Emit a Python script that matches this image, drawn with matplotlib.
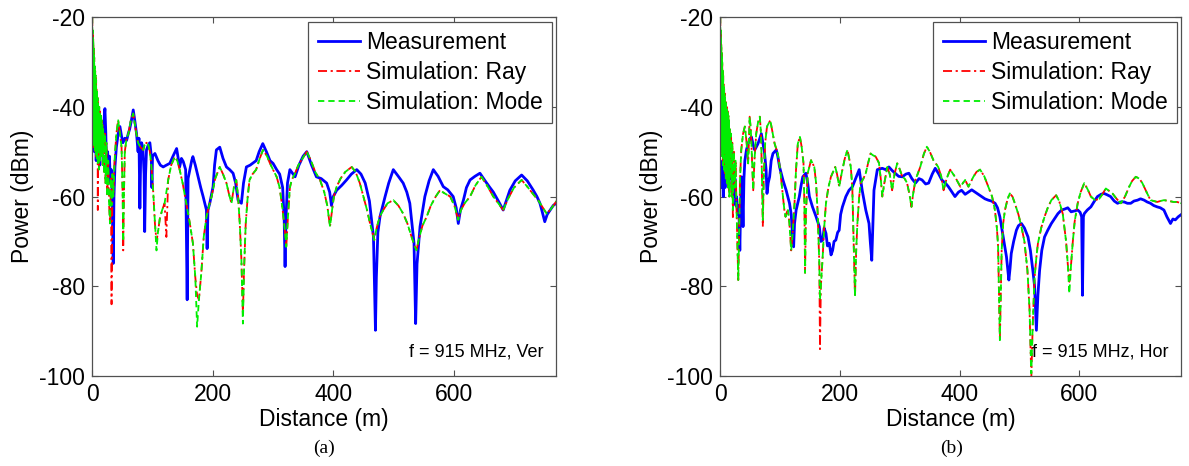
"""Measured vs. simulated received power along a tunnel at 915 MHz.

Two panels: (a) vertical and (b) horizontal polarisation. Each panel overlays
the measurement with the ray-tracing and modal simulations, MATLAB style.
"""

from __future__ import annotations

import matplotlib

matplotlib.use("Agg")
import matplotlib.pyplot as plt

plt.rcParams["font.family"] = ["Liberation Sans", "DejaVu Sans"]
plt.rcParams["axes.unicode_minus"] = False

# --- Data --------------------------------------------------------------------
# Panel (a): f = 915 MHz, vertical polarisation
meas_a_dist = [
    2.0, 3.5, 5.0, 6.5, 8.0, 9.5, 11.0, 12.5, 14.0, 15.5, 17.0, 18.5, 20.0,
    21.0, 22.5, 23.8, 25.5, 27.0, 28.5, 30.0, 31.5, 33.0, 34.8, 36.0, 37.6,
    40.0, 43.0, 45.9, 48.5, 51.0, 54.0, 57.0, 59.7, 62.0, 65.0, 68.0, 70.5,
    73.5, 76.0, 77.5, 79.0, 80.5, 81.8, 84.0, 86.0, 87.0, 88.5, 90.0, 93.0,
    95.6, 98.0, 99.0, 100.0, 104.0, 109.0, 113.0, 117.7, 123.0, 128.7, 134.0,
    140.0, 145.0, 148.0, 151.0, 155.0, 157.5, 159.0, 162.0, 165.0, 167.0,
    171.0, 175.7, 180.0, 184.0, 189.5, 190.6, 192.0, 195.0, 200.5, 203.0,
    206.0, 211.6, 217.0, 222.7, 228.0, 233.7, 238.0, 242.0, 247.5, 251.0,
    255.8, 262.0, 267.0, 272.0, 277.0, 283.0, 289.0, 295.0, 300.0, 306.0,
    311.0, 316.0, 318.5, 320.0, 321.5, 324.0, 328.0, 336.6, 343.0, 350.0,
    356.0, 364.0, 372.0, 380.0, 389.0, 394.0, 397.0, 400.0, 405.6, 414.0,
    422.0, 430.0, 439.0, 446.0, 453.0, 460.0, 466.7, 468.5, 470.0, 471.5,
    474.0, 477.5, 486.0, 492.0, 499.6, 508.0, 516.0, 522.0, 527.0, 534.0,
    536.7, 539.0, 544.0, 552.0, 559.0, 566.0, 574.0, 582.6, 590.0, 599.0,
    604.0, 607.5, 611.0, 616.0, 621.0, 627.0, 635.0, 643.4, 652.0, 660.0,
    665.6, 674.0, 682.0, 687.0, 693.0, 702.0, 712.6, 722.0, 732.0, 738.0,
    743.0, 747.0, 751.0, 755.0, 760.0, 765.0, 770.0,
]
meas_a_power = [
    -46, -50, -45, -52, -47, -51, -46, -53, -48, -50, -45, -47, -42,
    -40.4, -46, -54.8, -50, -56, -51, -57, -54, -60, -74.9, -60, -53.4,
    -49, -46, -44.4, -46.5, -48, -47, -47.5, -46, -45, -43, -40.7, -43,
    -46, -50, -47, -62.6, -50, -48, -49, -55, -67.8, -55, -49.6, -48.5,
    -48, -51, -58, -51, -50.4, -52, -53, -53.4, -53, -52.6, -51,
    -49.3, -53.4, -51.5, -52.2, -54, -83, -56, -54, -52, -51.1,
    -53, -55.6, -58, -60, -63, -71.6, -63, -61.5, -57.8, -53,
    -49.6, -49, -51.5, -53.4, -54, -54.8, -57, -60.8, -61.5, -57,
    -53.4, -53, -52.5, -52, -50, -48.2, -50, -52, -52.6, -54,
    -55, -58, -65, -75.6, -65, -57, -54, -55.6, -53, -51,
    -50, -53, -55.6, -56, -57, -59, -62, -60, -58.6, -57.5,
    -56.3, -55, -54, -55, -57, -61, -69, -80, -89.8, -78,
    -68, -64.5, -60, -57, -54, -55.5, -57, -59, -61.5, -70.4,
    -88.3, -75, -66.7, -60, -56.5, -54, -55.5, -57.8, -58.5, -60,
    -62.5, -66, -63, -60.8, -58, -56.3, -55.5, -54.8, -56.5, -58,
    -59, -61, -63, -61, -58.6, -56.5, -55.2, -56.5, -58.6, -60,
    -61.5, -63.5, -65.6, -64, -63, -62, -61.5,
]

sim_a_dist = [
    0.0, 0.4, 0.8, 1.2, 1.6, 2.0, 2.4, 2.8, 3.2, 3.6, 4.0, 4.4, 4.8, 5.2,
    5.6, 6.0, 6.4, 6.8, 7.2, 7.6, 8.0, 8.4, 8.8, 9.2, 9.6, 10.0, 10.5, 11.0,
    11.5, 12.0, 12.5, 13.0, 13.5, 14.0, 14.5, 15.0, 15.6, 16.2, 16.8, 17.4,
    18.0, 18.6, 19.2, 20.0, 21.0, 22.0, 23.5, 25.0, 26.5, 28.0, 29.5, 31.0,
    32.0, 33.5, 35.0, 37.0, 40.0, 43.0, 46.0, 48.6, 50.5, 51.4, 52.5, 54.0,
    57.0, 60.0, 64.0, 68.0, 72.0, 76.0, 80.0, 84.5, 87.0, 90.0, 93.0, 95.6,
    98.0, 101.0, 104.0, 106.6, 109.0, 112.0, 116.0, 120.0, 123.0, 126.0,
    131.0, 137.0, 141.0, 145.0, 150.0, 156.0, 162.0, 167.0, 171.0, 174.0,
    177.0, 181.0, 185.0, 189.5, 194.0, 198.0, 204.0, 211.6, 217.0, 222.7,
    227.0, 231.0, 235.0, 239.0, 242.0, 244.8, 247.5, 250.0, 252.0, 254.7,
    258.0, 261.0, 266.0, 272.0, 278.0, 283.4, 290.0, 295.0, 300.0, 306.0,
    311.0, 316.0, 320.0, 322.0, 325.0, 328.0, 331.0, 336.0, 342.0, 349.0,
    356.0, 363.0, 370.0, 378.0, 385.0, 390.0, 394.6, 398.0, 401.0, 405.6,
    412.0, 420.0, 430.6, 437.0, 444.0, 450.0, 456.0, 461.0, 466.0, 468.0,
    472.0, 477.0, 483.0, 490.0, 499.6, 508.0, 516.0, 523.0, 530.0, 535.0,
    538.0, 542.0, 548.0, 555.0, 562.0, 570.0, 577.0, 585.0, 594.0, 601.0,
    605.0, 607.5, 612.0, 618.0, 627.0, 636.0, 646.0, 655.0, 665.6, 674.0,
    682.0, 690.0, 700.0, 712.6, 722.0, 732.0, 740.0, 748.0, 754.0, 760.0,
    768.0, 770.0,
]
mode_a_power = [
    -20, -38, -23, -44, -25, -47, -27, -49, -29, -46, -31, -50, -32, -48,
    -33, -51, -34, -47, -36, -52, -37, -49, -38, -53, -39, -50, -40, -54,
    -40, -49, -41, -52, -42, -48, -42, -51, -43, -47, -44, -53,
    -45, -50, -46, -55, -46, -57, -48, -60, -52, -62, -66, -56,
    -62, -55, -60, -52, -46, -43, -46, -49, -60, -70, -60, -50,
    -47, -46, -43, -41.5, -45, -48, -49, -49.6, -48.5, -48, -48.5, -50,
    -53, -58.6, -66, -72, -68, -65, -63, -61.5, -59, -56.3,
    -53, -51.1, -52, -54, -57, -61.5, -66, -70.4, -78, -89,
    -83, -77, -69, -64.5, -62, -60, -56, -53.4, -55, -57,
    -59.5, -61.5, -58, -56.3, -60, -66, -74, -88.3, -76, -66,
    -60, -56.3, -55, -54, -51.5, -49.6, -51, -52.6, -54, -55.6,
    -58, -63, -68, -71.2, -64, -58, -56.3, -55, -53, -51.5,
    -50, -52, -54.5, -56.3, -59, -62, -66.7, -63, -60, -57.8,
    -56, -54.5, -53.4, -54.5, -57, -60, -63, -66, -68.5, -69.7,
    -67, -64.5, -63, -61.5, -60.8, -62, -63.8, -66, -69, -71,
    -72, -69.5, -66.5, -64.5, -62, -60, -58.6, -59.3, -60, -62,
    -64, -65.2, -63, -61.5, -60, -57.5, -55.6, -57.5, -60, -61.5,
    -63, -60.5, -58, -56.3, -57.8, -59.5, -60.8, -62.5, -63.8, -63,
    -61.5, -61,
]
# Ray tracing follows the modal curve except in these deeper nulls
ray_a_nulls = {9.2: -63, 32.0: -84, 51.4: -72, 106.6: -70, 123.0: -69,
               174.0: -82, 250.0: -86}

# Panel (b): f = 915 MHz, horizontal polarisation
meas_b_dist = [
    3.0, 4.0, 5.0, 6.5, 8.0, 9.5, 10.5, 12.0, 13.5, 15.0, 16.5, 18.0, 19.5,
    21.6, 23.0, 24.5, 26.0, 27.0, 29.0, 31.0, 32.6, 34.0, 35.4, 36.5, 38.0,
    39.5, 41.0, 43.7, 47.0, 50.0, 52.0, 55.0, 57.5, 60.0, 63.0, 66.0, 68.6,
    71.0, 74.0, 76.5, 78.0, 80.0, 82.4, 85.0, 88.0, 93.5, 96.0, 99.0, 104.6,
    110.0, 115.6, 118.5, 121.0, 122.5, 124.0, 126.7, 132.0, 135.0, 137.8,
    143.0, 146.0, 148.8, 154.0, 160.0, 165.4, 168.0, 171.0, 173.5, 176.5,
    179.0, 182.0, 185.0, 187.6, 190.0, 193.0, 196.0, 198.6, 201.0, 204.0,
    209.7, 215.0, 220.7, 226.0, 232.0, 237.0, 243.0, 248.4, 250.5, 253.0,
    255.5, 256.7, 262.3, 270.6, 276.0, 281.6, 287.0, 292.0, 298.0, 304.0,
    310.0, 315.0, 320.0, 326.0, 332.0, 337.0, 343.0, 348.0, 354.0, 359.0,
    365.0, 370.0, 376.0, 381.0, 387.0, 392.0, 398.0, 403.0, 409.0, 414.5,
    420.0, 425.5, 431.0, 436.6, 442.0, 447.6, 453.0, 459.0, 463.0, 467.0,
    472.6, 478.0, 482.0, 484.0, 486.0, 490.0, 494.6, 498.0, 503.0, 508.0,
    514.0, 518.0, 522.0, 525.0, 528.0, 530.5, 533.4, 537.0, 541.6, 547.0,
    553.0, 558.0, 564.0, 570.0, 575.0, 580.4, 586.0, 592.0, 597.0, 601.0,
    603.6, 605.0, 606.5, 608.0, 613.0, 619.0, 625.0, 630.0, 636.0, 641.0,
    646.0, 652.0, 658.0, 663.5, 669.0, 674.6, 680.0, 685.6, 691.0, 697.0,
    702.0, 708.0, 713.0, 718.6, 724.0, 729.8, 735.0, 741.0, 746.0, 752.0,
    756.0, 760.0, 765.0, 770.0,
]
meas_b_power = [
    -58, -52, -60, -54, -58, -50, -52, -48, -55, -51, -56, -50, -58,
    -57, -60, -56, -62, -60, -64, -62, -72, -62, -55.6, -58, -66.7,
    -56, -52, -49.6, -48, -47, -46.7, -48.5, -49.6, -49, -48.2, -47, -46,
    -48, -50.4, -54, -59.3, -57, -55.6, -52, -50.4, -49.6, -51, -53.4, -56.3,
    -58.6, -61.5, -64, -69.7, -71.2, -66, -63, -60, -57.5, -55.6,
    -54.8, -57, -60, -62.3, -64.5, -66.7, -70, -69.7, -67, -68.2,
    -71, -70.4, -73, -72, -70, -69.7, -68, -67.5, -64, -62.3,
    -60, -58.6, -57.8, -56, -54, -58.6, -63, -66, -70, -74.2,
    -64, -58.6, -54, -53.7, -54, -53.4, -54.2, -54.8, -55.5, -55.6,
    -55, -54.8, -56, -57, -56, -56.3, -57.2, -57, -55, -53.7,
    -55, -56.3, -57, -57.8, -59, -60, -59, -58.6, -59.5, -59,
    -58.5, -59, -59.5, -60, -60.5, -60.8, -61, -61.5, -62.5, -64.5,
    -69, -73.4, -78.6, -76, -72.7, -70, -67.5, -66.5, -66, -67,
    -69, -72, -76.4, -80, -89.8, -82, -76.4, -72, -69, -67.5,
    -66, -65, -63.8, -63, -62.8, -62.5, -63.4, -63.2, -63, -63.5,
    -64.5, -82, -64.5, -63.8, -63, -62.3, -61, -60, -59.5, -59.3,
    -59.6, -60, -61, -61.5, -61.2, -61.2, -61.5, -61.5, -61, -60.8,
    -60.5, -60.8, -61.2, -61.5, -62, -62.3, -62.5, -63, -64.5, -66,
    -65, -65.2, -64.5, -64,
]

sim_b_dist = [
    0.0, 0.4, 0.8, 1.2, 1.6, 2.0, 2.4, 2.8, 3.2, 3.6, 4.0, 4.4, 4.8, 5.2,
    5.6, 6.0, 6.4, 6.8, 7.2, 7.6, 8.0, 8.4, 8.8, 9.2, 9.6, 10.0, 10.5, 11.0,
    11.5, 12.0, 12.5, 13.0, 13.5, 14.0, 14.5, 15.0, 16.0, 17.0, 18.0, 19.0,
    20.0, 21.0, 22.5, 24.0, 25.5, 27.0, 28.5, 30.0, 31.5, 33.0, 35.0, 38.0,
    41.0, 44.0, 46.5, 48.0, 49.0, 51.0, 53.0, 55.0, 57.0, 60.0, 63.0, 66.0,
    68.0, 69.5, 71.0, 72.5, 75.0, 78.0, 83.5, 87.0, 90.7, 96.0, 100.0, 104.6,
    107.0, 109.0, 111.0, 113.0, 115.5, 118.4, 121.0, 124.0, 126.5, 129.5,
    133.0, 136.0, 139.0, 140.5, 141.6, 143.0, 146.0, 151.6, 157.0, 160.0,
    162.7, 165.4, 166.5, 168.0, 171.0, 173.5, 176.5, 180.5, 184.8, 192.0,
    195.0, 198.6, 201.0, 204.0, 208.0, 212.4, 218.0, 220.5, 222.0, 225.0,
    227.0, 229.0, 232.0, 234.6, 239.0, 243.0, 247.0, 251.0, 255.0, 259.5,
    265.0, 268.0, 270.6, 274.0, 279.0, 283.0, 287.0, 291.0, 295.5, 300.0,
    304.0, 308.0, 312.0, 316.0, 319.3, 322.0, 326.0, 334.0, 340.0, 345.0,
    350.0, 356.0, 364.0, 369.0, 373.0, 378.0, 384.0, 392.0, 401.0, 409.0,
    414.5, 422.7, 428.0, 434.0, 441.0, 447.6, 454.0, 458.7, 462.0, 464.0,
    467.0, 470.0, 472.5, 475.5, 480.0, 483.6, 488.0, 492.0, 498.0, 503.0,
    508.0, 513.0, 516.5, 519.5, 522.0, 525.0, 528.0, 530.6, 536.0, 541.6,
    547.0, 553.0, 561.0, 566.0, 572.0, 577.6, 580.4, 583.0, 586.0, 588.6,
    592.0, 597.0, 602.0, 608.0, 614.0, 619.0, 626.0, 633.0, 638.0, 644.0,
    650.0, 655.0, 662.0, 669.0, 676.0, 683.0, 688.0, 694.0, 700.0, 705.0,
    712.0, 718.6, 724.0, 729.8, 735.0, 741.0, 750.0, 757.0, 763.0, 770.0,
]
mode_b_power = [
    -20, -40, -23, -46, -26, -49, -28, -51, -30, -48, -32, -53, -33, -50,
    -35, -54, -36, -49, -37, -55, -38, -51, -39, -56, -39, -52, -40, -57,
    -41, -53, -41, -58, -42, -54, -43, -60, -45, -55, -46, -60,
    -48, -63, -50, -58, -52, -62, -70, -78.6, -68, -56, -49.6, -46,
    -44.4, -48, -52.6, -47, -42.2, -45, -52, -58.6, -52, -46, -43.5, -42.2,
    -46, -55, -65.2, -56, -48, -44.4, -43, -45.5, -48.2, -50.4, -54, -60,
    -63, -64.5, -63.5, -63, -66, -72, -68, -61.5, -54, -48.2,
    -46.7, -49, -52.6, -62, -77, -64, -54.8, -51.9, -53.4, -57,
    -63.8, -75, -83, -80, -73.4, -67, -61.5, -58, -55.6, -53.4,
    -55, -57.8, -56, -54, -51.5, -49.6, -53.4, -58, -66, -82.3,
    -72, -66, -60, -57, -56, -54.8, -52.5, -50.4, -50.8, -51.1,
    -52.5, -56, -60, -57, -53.4, -55, -58.6, -55, -52.6, -54,
    -55.6, -56, -57, -59.5, -62.3, -59.5, -56.3, -53.4, -50.5, -48.9,
    -50, -51.9, -53.4, -55.5, -58.6, -56, -54, -55.6, -57.8, -56.3,
    -57.8, -55.6, -54.5, -54, -55.5, -57.8, -60, -63, -67, -71,
    -92, -72, -66, -63, -60.5, -59.3, -60, -61.5, -64, -66.7,
    -70, -76.4, -85, -99.4, -88, -78, -73.5, -70.4, -67, -64.5,
    -62.5, -60.8, -59.7, -61, -63.8, -70, -75, -81.6, -75, -70.4,
    -65.5, -61.5, -59, -57, -58.5, -60, -60.8, -60.5, -59.5, -58.2,
    -58.8, -59.3, -60.5, -61.5, -60, -57.8, -56.5, -55.6, -56, -57,
    -59, -60.8, -61, -61.2, -61, -60.8, -61, -61.2, -61.2, -61.5,
]
ray_b_nulls = {21.0: -65, 71.0: -66.7, 166.5: -94, 519.5: -100.5,
               583.0: -79}

X_LIMITS = (0, 770)
Y_LIMITS = (-100, -20)
X_TICKS = [0, 200, 400, 600]
Y_TICKS = [-100, -80, -60, -40, -20]
LEGEND_LABELS = ["Measurement", "Simulation: Ray", "Simulation: Mode"]

# --- Styling ------------------------------------------------------------------
FONT_SIZE = 16.5
BOX_COLOR = "#505050"


def with_nulls(dist, power, nulls):
    """Copy ``power`` and replace the values listed in ``nulls`` by distance."""
    out = list(power)
    for d, value in nulls.items():
        out[dist.index(d)] = value
    return out


def draw_panel(ax, meas_d, meas_p, sim_d, ray_p, mode_p, note):
    """Draw one measured/simulated comparison panel."""
    ax.plot(meas_d, meas_p, color="#0000ff", lw=2.0, label=LEGEND_LABELS[0])
    ax.plot(sim_d, ray_p, color="#ff0000", lw=1.3,
            dashes=(5, 2, 1.2, 2), label=LEGEND_LABELS[1])
    ax.plot(sim_d, mode_p, color="#00ee00", lw=1.3,
            dashes=(3.5, 2.2), label=LEGEND_LABELS[2])

    ax.set_xlim(X_LIMITS)
    ax.set_ylim(Y_LIMITS)
    ax.set_xticks(X_TICKS)
    ax.set_yticks(Y_TICKS)
    ax.tick_params(direction="in", top=True, right=True, length=4, width=0.8,
                   colors=BOX_COLOR, labelcolor="black",
                   labelsize=FONT_SIZE, pad=5)
    for spine in ax.spines.values():
        spine.set_color(BOX_COLOR)
        spine.set_linewidth(0.9)

    ax.set_xlabel("Distance (m)", fontsize=FONT_SIZE)
    ax.set_ylabel("Power (dBm)", fontsize=FONT_SIZE)
    ax.xaxis.set_label_coords(0.5, -0.088)
    ax.yaxis.set_label_coords(-0.125, 0.5)

    leg = ax.legend(loc="upper right", fontsize=FONT_SIZE, fancybox=False,
                    framealpha=1, edgecolor=BOX_COLOR, borderaxespad=0.2,
                    borderpad=0.4, labelspacing=0.3, handlelength=1.85,
                    handletextpad=0.25)
    leg.get_frame().set_linewidth(0.9)

    ax.text(0.972, 0.067, note, transform=ax.transAxes, ha="right",
            va="center", fontsize=13)


def main() -> None:
    fig = plt.figure(figsize=(11.89, 4.66), dpi=100)
    ax_a = fig.add_axes([0.0776, 0.193, 0.3902, 0.7704])
    ax_b = fig.add_axes([0.6058, 0.193, 0.3877, 0.7704])

    draw_panel(ax_a, meas_a_dist, meas_a_power, sim_a_dist,
               with_nulls(sim_a_dist, mode_a_power, ray_a_nulls),
               mode_a_power, "f = 915 MHz, Ver")
    draw_panel(ax_b, meas_b_dist, meas_b_power, sim_b_dist,
               with_nulls(sim_b_dist, mode_b_power, ray_b_nulls),
               mode_b_power, "f = 915 MHz, Hor")

    serif = ["Liberation Serif", "DejaVu Serif"]
    fig.text(0.2725, 0.038, "(a)", ha="center", va="center", fontsize=14,
             family=serif)
    fig.text(0.8, 0.038, "(b)", ha="center", va="center", fontsize=14,
             family=serif)

    fig.savefig("out.png", dpi=100)


if __name__ == "__main__":
    main()
